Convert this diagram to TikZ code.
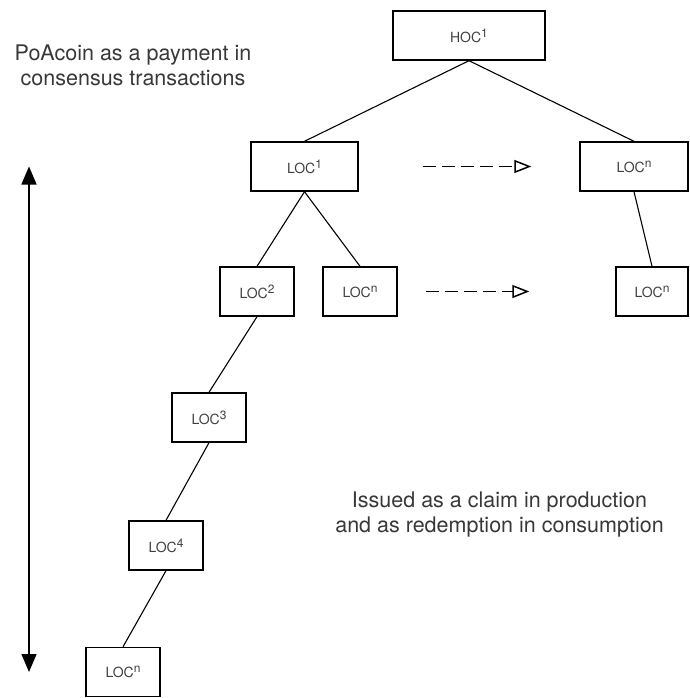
\documentclass[tikz,border=0pt]{standalone}
\usepackage{fontspec}
\setmainfont{TeX Gyre Heros}
\usetikzlibrary{arrows.meta, positioning}
\newcommand{\locexp}[1]{\raisebox{5pt}{\fontsize{12}{12}\selectfont #1}}

\begin{document}
\begin{tikzpicture}[x=1pt, y=-1pt, node distance=126pt]
% Define chain styles
\tikzstyle{coin} = [rectangle, draw=black, line width=1.4pt, text=black!75, text centered, minimum height=49pt, inner sep=0pt, font=\fontsize{14}{14}\selectfont]
\tikzstyle{link} = [line width=1.1pt, draw=black]
\tikzstyle{onward} = [line width=1.5pt, dash pattern=on 13pt off 6pt, -{Triangle[open, length=17pt, width=13pt]}]
\tikzstyle{span} = [line width=1.5pt, {Triangle[length=18pt, width=15pt]}-{Triangle[length=18pt, width=15pt]}]
\tikzstyle{note} = [align=center, text=black!78, inner sep=0pt, anchor=north, font=\fontsize{21.5}{25}\selectfont]
\useasboundingbox (0,0) rectangle (689,698);
% Define nodes (top layer)
\node[coin, minimum width=152pt] (HOC1) at (469,35.5) {HOC\locexp{1}};
% Define second layer nodes
\node[coin, minimum width=107pt, below of=HOC1, yshift=-5pt, xshift=-164.5pt] (LOC1) {LOC\locexp{1}};
\node[coin, minimum width=108pt, below of=HOC1, yshift=-5pt, xshift=165pt] (LOCnTop) {LOC\locexp{n}};
% Define third layer nodes
\node[coin, minimum width=74pt, below of=LOC1, yshift=1pt, xshift=-47.5pt] (LOC2) {LOC\locexp{2}};
\node[coin, minimum width=74pt, below of=LOC1, yshift=1pt, xshift=55.5pt] (LOCnMid) {LOC\locexp{n}};
\node[coin, minimum width=72pt, below of=LOCnTop, yshift=1pt, xshift=18pt] (LOCnRight) {LOC\locexp{n}};
% Define lower chain
\node[coin, minimum width=74pt, below of=LOC2, xshift=-48pt] (LOC3) {LOC\locexp{3}};
\node[coin, minimum width=74pt, below of=LOC3, yshift=-2pt, xshift=-43pt] (LOC4) {LOC\locexp{4}};
\node[coin, minimum width=74pt, below of=LOC4, yshift=-0.5pt, xshift=-43pt] (LOCnBottom) {LOC\locexp{n}};
% Notes
\node[note] (PaymentNote) at (133,45) {PoAcoin as a payment in\\consensus transactions};
\node[note] (ClaimNote) at (499.5,492) {Issued as a claim in production\\and as redemption in consumption};
% Ends of the side arrow
\coordinate (SpanTop) at (29,166.5);
\coordinate (SpanBottom) at (29,672);
% Relationships
\draw[link] (HOC1.south) -- (LOC1.north);
\draw[link] (HOC1.south) -- (LOCnTop.north);
\draw[link] (LOC1.south) -- (LOC2.north);
\draw[link] (LOC1.south) -- (LOCnMid.north);
\draw[link] (LOCnTop.south) -- (LOCnRight.north);
\draw[link] (LOC2.south) -- (LOC3.north);
\draw[link] (LOC3.south) -- (LOC4.north);
\draw[link] (LOC4.south) -- (LOCnBottom.north);
\draw[onward] ([xshift=64pt]LOC1.east) -- ([xshift=-48pt]LOCnTop.west);
\draw[onward] ([xshift=28pt]LOCnMid.east) -- ([xshift=-86pt]LOCnRight.west);
\draw[span] (SpanTop) -- (SpanBottom);
\end{tikzpicture}
\end{document}
